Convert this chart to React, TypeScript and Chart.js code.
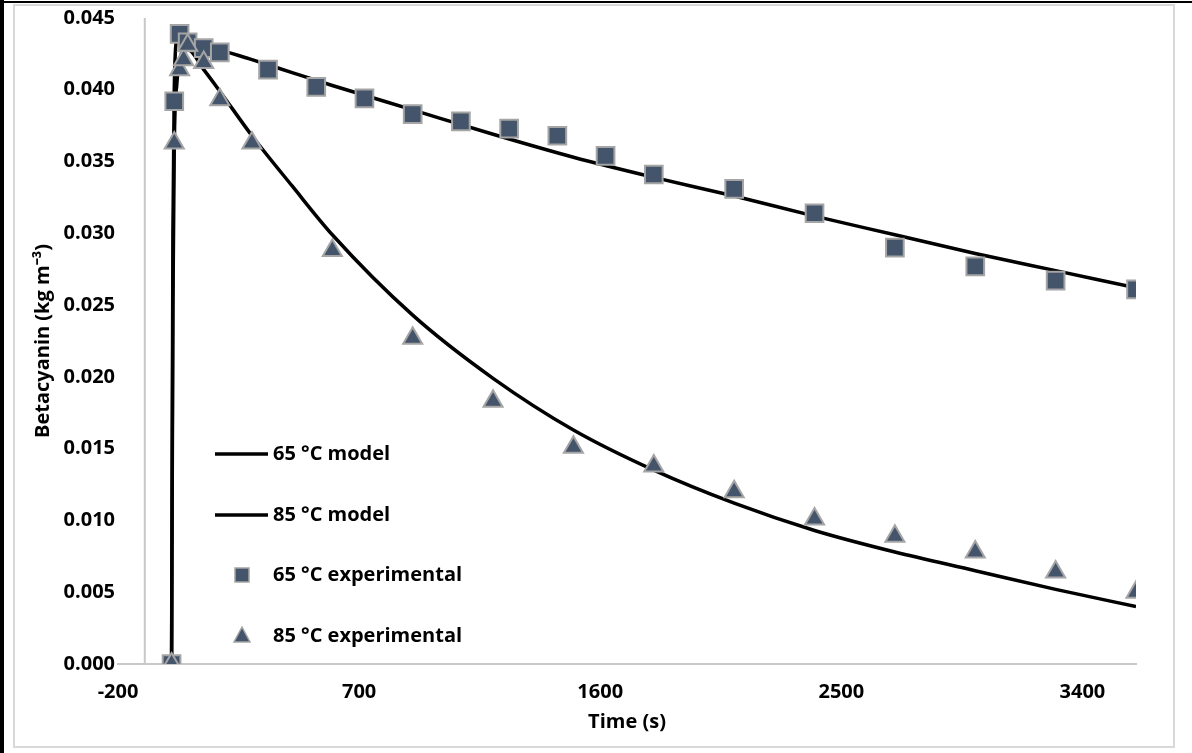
import React, { useEffect, useRef } from "react";
import { Chart, registerables } from "chart.js";

Chart.register(...registerables);

// ---- data ----
const xTickValues = [-200, 700, 1600, 2500, 3400];
const xMin = -200;
const xMax = 3600;
const yMin = 0;
const yMax = 0.045;
const yStep = 0.005;
const yAxisCrossValue = -100;

const exp65Time = [0, 10, 30, 60, 120, 180, 360, 540, 720, 900, 1080, 1260, 1440, 1620, 1800, 2100, 2400, 2700, 3000, 3300, 3600];
const exp65Value = [0, 0.0392, 0.0439, 0.0433, 0.0429, 0.0426, 0.0414, 0.0402, 0.0394, 0.0383, 0.0378, 0.0373, 0.0368, 0.0354, 0.0341, 0.0331, 0.0314, 0.029, 0.0277, 0.0267, 0.0261];

const exp85Time = [0, 10, 30, 45, 60, 120, 180, 300, 600, 900, 1200, 1500, 1800, 2100, 2400, 2700, 3000, 3300, 3600];
const exp85Value = [0, 0.0363, 0.0414, 0.0421, 0.0431, 0.0419, 0.0393, 0.0363, 0.0288, 0.0227, 0.0183, 0.0151, 0.0138, 0.012, 0.0101, 0.0089, 0.0078, 0.0064, 0.005];

const model65Time = [0, 5, 10, 20, 30, 60, 120, 180, 300, 450, 600, 900, 1200, 1500, 1800, 2100, 2400, 2700, 3000, 3300, 3600];
const model65Value = [0, 0.03, 0.04, 0.0436, 0.0438, 0.0436, 0.0432, 0.0428, 0.0421, 0.0412, 0.0403, 0.0386, 0.0369, 0.0353, 0.0339, 0.0326, 0.0312, 0.0299, 0.0286, 0.0274, 0.0262];

const model85Time = [0, 5, 10, 20, 30, 45, 60, 120, 180, 300, 450, 600, 900, 1200, 1500, 1800, 2100, 2400, 2700, 3000, 3300, 3600];
const model85Value = [0, 0.025, 0.036, 0.0405, 0.042, 0.0428, 0.0428, 0.0414, 0.0399, 0.0368, 0.0333, 0.0299, 0.0243, 0.0199, 0.0163, 0.0135, 0.0112, 0.0093, 0.0078, 0.0065, 0.0052, 0.004];

const labels = ["65 °C model", "85 °C model", "65 °C experimental", "85 °C experimental"];

const markerFill = "#44546A";
const markerBorder = "#A5A5A5";
const FONT = "'Open Sans', 'Liberation Sans', sans-serif";

const pts = (t: number[], v: number[]) => t.map((x, i) => ({ x, y: v[i] }));

const extrasPlugin = {
  id: "extras",
  beforeDatasetsDraw(chart: any) {
    const { ctx, scales } = chart;
    const x = scales.x.getPixelForValue(yAxisCrossValue);
    ctx.save();
    ctx.strokeStyle = "#C8C8C8";
    ctx.lineWidth = 2;
    ctx.beginPath();
    ctx.moveTo(x, scales.y.getPixelForValue(yMax));
    ctx.lineTo(x, scales.y.getPixelForValue(yMin));
    ctx.stroke();
    ctx.restore();
  },
  afterDraw(chart: any) {
    const { ctx } = chart;
    ctx.save();
    ctx.font = `bold 20px ${FONT}`;
    ctx.fillStyle = "#000";
    ctx.textBaseline = "middle";
    ctx.textAlign = "left";
    const rows = [454, 515, 575, 636];
    const tx = 273;
    ctx.strokeStyle = "#000";
    ctx.lineWidth = 3.5;
    for (let i = 0; i < 2; i++) {
      ctx.beginPath();
      ctx.moveTo(215, rows[i]);
      ctx.lineTo(268, rows[i]);
      ctx.stroke();
    }
    ctx.fillStyle = markerFill;
    ctx.strokeStyle = markerBorder;
    ctx.lineWidth = 1.5;
    ctx.beginPath();
    ctx.rect(235, rows[2] - 7, 14, 14);
    ctx.fill();
    ctx.stroke();
    ctx.beginPath();
    ctx.moveTo(242, rows[3] - 9);
    ctx.lineTo(250, rows[3] + 6);
    ctx.lineTo(234, rows[3] + 6);
    ctx.closePath();
    ctx.fill();
    ctx.stroke();
    ctx.fillStyle = "#000";
    labels.forEach((l, i) => ctx.fillText(l, tx, rows[i]));
    ctx.restore();
  },
};

export default function App() {
  const ref = useRef<HTMLCanvasElement | null>(null);
  useEffect(() => {
    if (!ref.current) return;
    const tickFont = { family: FONT, size: 20, weight: "bold" as const };
    const chart = new Chart(ref.current, {
      type: "scatter",
      data: {
        datasets: [
          {
            label: labels[3],
            data: pts(exp85Time, exp85Value),
            pointStyle: "triangle",
            pointRadius: 11,
            pointHoverRadius: 11,
            backgroundColor: markerFill,
            borderColor: markerBorder,
            borderWidth: 2,
            showLine: false,
          },
          {
            label: labels[2],
            data: pts(exp65Time, exp65Value),
            pointStyle: "rect",
            pointRadius: 12.5,
            pointHoverRadius: 12.5,
            backgroundColor: markerFill,
            borderColor: markerBorder,
            borderWidth: 2,
            showLine: false,
          },
          {
            label: labels[1],
            data: pts(model85Time, model85Value),
            showLine: true,
            pointRadius: 0,
            borderColor: "#000",
            borderWidth: 3.5,
            cubicInterpolationMode: "monotone",
          },
          {
            label: labels[0],
            data: pts(model65Time, model65Value),
            showLine: true,
            pointRadius: 0,
            borderColor: "#000",
            borderWidth: 3.5,
            cubicInterpolationMode: "monotone",
          },
        ],
      },
      options: {
        animation: false,
        responsive: false,
        devicePixelRatio: 1,
        layout: { padding: { left: 0, right: 56, top: 18, bottom: 0 } },
        plugins: { legend: { display: false }, tooltip: { enabled: false } },
        scales: {
          x: {
            type: "linear",
            min: xMin,
            max: xMax,
            afterBuildTicks: (s: any) => {
              s.ticks = xTickValues.map((v) => ({ value: v }));
            },
            afterFit: (s: any) => {
              s.height = 89;
            },
            grid: { display: false, drawTicks: false },
            border: { display: true, color: "#C8C8C8", width: 2 },
            ticks: {
              font: tickFont,
              color: "#000",
              padding: 16,
              autoSkip: false,
              maxRotation: 0,
              callback: (v: any) => String(v),
            },
            title: {
              display: true,
              text: "Time (s)",
              color: "#000",
              font: { family: FONT, size: 20, weight: "bold" },
              padding: { top: 0, bottom: 19 },
            },
          },
          y: {
            min: yMin,
            max: yMax,
            afterFit: (s: any) => {
              s.width = 118;
            },
            grid: { display: false, drawTicks: false },
            border: { display: false },
            ticks: {
              stepSize: yStep,
              font: tickFont,
              color: "#000",
              padding: 3,
              callback: (v: any) => Number(v).toFixed(3),
            },
            title: {
              display: true,
              text: "Betacyanin (kg m⁻³)",
              color: "#000",
              font: { family: FONT, size: 20, weight: "bold" },
              padding: { top: 31, bottom: 0 },
            },
          },
        },
      },
      plugins: [extrasPlugin],
    });
    return () => chart.destroy();
  }, []);

  return (
    <div style={{ position: "absolute", left: 0, top: 0, width: 1192, height: 753, background: "#fff", overflow: "hidden" }}>
      <div style={{ position: "absolute", left: 13, top: 4, width: 1162, height: 744, border: "2px solid #D9D9D9", boxSizing: "border-box" }} />
      <div style={{ position: "absolute", left: 0, top: 0, width: 4, height: 753, background: "#000" }} />
      <div style={{ position: "absolute", left: 0, top: 1, width: 1192, height: 2, background: "#000" }} />
      <canvas ref={ref} width={1192} height={753} style={{ position: "absolute", left: 0, top: 0 }} />
    </div>
  );
}
